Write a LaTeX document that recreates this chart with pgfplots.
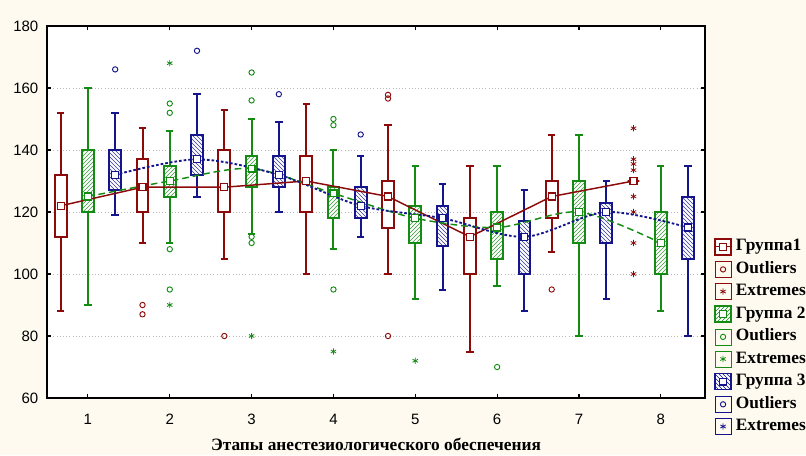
\documentclass[border=0pt]{standalone}
\usepackage{fontspec}
\setmainfont{Liberation Sans}
\newfontfamily\tnr{Liberation Serif}
\usepackage{pgfplots}
\pgfplotsset{compat=1.18}
\usepgfplotslibrary{statistics}
\usetikzlibrary{patterns}
\definecolor{cR}{RGB}{140,10,10}
\definecolor{cG}{RGB}{20,140,20}
\definecolor{cB}{RGB}{20,20,140}
\definecolor{bgc}{RGB}{254,250,240}
\definecolor{gridc}{RGB}{185,185,185}
\pgfplotsset{
 gbox/.style={line width=1.5pt, mark=none, boxplot/box extend=0.143, boxplot/whisker extend=0.09,
   boxplot/every median/.style={draw=none}},
 gone/.style={gbox, draw=cR, boxplot/every box/.style={fill=white}},
 gtwo/.style={gbox, draw=cG, boxplot/every box/.style={fill=white, postaction={pattern=north east lines, pattern color=cG!85}}},
 gthree/.style={gbox, draw=cB, boxplot/every box/.style={fill=white, postaction={pattern=north west lines, pattern color=cB!85}}},
}
% style, position, lower whisker, lower quartile, median, upper quartile, upper whisker
\newcommand{\boxA}[7]{\addplot[#1, boxplot prepared={draw position=#2, lower whisker=#3, lower quartile=#4, median=#5, upper quartile=#6, upper whisker=#7}] coordinates {};}
\begin{document}
\begin{tikzpicture}
\fill[bgc] (0,0) rectangle (604.5pt,341.25pt);
\useasboundingbox (0,0) rectangle (604.5pt,341.25pt);
\begin{axis}[
  at={(35.25pt,42.75pt)}, anchor=south west,
  scale only axis, width=493.5pt, height=279pt,
  boxplot/draw direction=y,
  xmin=0.5, xmax=8.54, ymin=60, ymax=180,
  xtick={1,2,3,4,5,6,7,8}, ytick={60,80,100,120,140,160,180},
  axis background/.style={fill=white},
  ymajorgrids, major grid style={gridc, dotted, line width=0.6pt},
  axis line style={line width=1.3pt, black},
  tick style={line width=0.8pt, black}, major tick length=3pt,
  tick label style={font=\fontsize{11.25}{13}\selectfont},
  /pgf/number format/assume math mode=true,
  xticklabel style={yshift=-8.5pt},
  yticklabel style={xshift=-3pt},
  xlabel={\tnr\bfseries Этапы анестезиологического обеспечения},
  xlabel style={font=\fontsize{13}{15}\selectfont, at={(axis description cs:0.5,0)}, anchor=center, yshift=-35pt},
  legend style={at={(axis description cs:1,0.431)}, anchor=north west, xshift=6.75pt,
    draw=none, fill=none, inner sep=0pt, row sep=4.2pt, column sep=3pt,
    font=\fontsize{13}{15}\selectfont\tnr\bfseries,
    nodes={inner sep=0pt, text height=9pt, text depth=3pt}},
  legend cell align=left,
]
% ---- legend ----
\addlegendimage{legend image code/.code={
  \draw[cR, line width=1.2pt, fill=white] (0pt,-6pt) rectangle (12pt,6pt);
  \draw[cR, line width=0.8pt] (0pt,0pt) -- (12pt,0pt);
  \draw[cR, line width=0.8pt, fill=white] (3.5pt,-2.5pt) rectangle (8.5pt,2.5pt);}}
\addlegendentry{Группа1}
\addlegendimage{cR, mark=o, mark size=2pt, legend image code/.code={
  \path (0pt,-6pt) rectangle (12pt,6pt);
  \draw[line width=0.7pt] plot coordinates {(6pt,0pt)};}}
\addlegendentry{Outliers}
\addlegendimage{cR, mark=asterisk, mark size=2.3pt, legend image code/.code={
  \path (0pt,-6pt) rectangle (12pt,6pt);
  \draw[line width=0.6pt] plot coordinates {(6pt,0pt)};}}
\addlegendentry{Extremes}
\addlegendimage{legend image code/.code={
  \draw[cG, line width=1.2pt, fill=white, postaction={pattern=north east lines, pattern color=cG}] (0pt,-6pt) rectangle (12pt,6pt);
  \draw[cG, line width=0.8pt, fill=white] (3.5pt,-2.5pt) rectangle (8.5pt,2.5pt);}}
\addlegendentry{Группа 2}
\addlegendimage{cG, mark=o, mark size=2pt, legend image code/.code={
  \path (0pt,-6pt) rectangle (12pt,6pt);
  \draw[line width=0.7pt] plot coordinates {(6pt,0pt)};}}
\addlegendentry{Outliers}
\addlegendimage{cG, mark=asterisk, mark size=2.3pt, legend image code/.code={
  \path (0pt,-6pt) rectangle (12pt,6pt);
  \draw[line width=0.6pt] plot coordinates {(6pt,0pt)};}}
\addlegendentry{Extremes}
\addlegendimage{legend image code/.code={
  \draw[cB, line width=1.2pt, fill=white, postaction={pattern=north west lines, pattern color=cB}] (0pt,-6pt) rectangle (12pt,6pt);
  \draw[cB, line width=0.8pt, fill=white] (3.5pt,-2.5pt) rectangle (8.5pt,2.5pt);}}
\addlegendentry{Группа 3}
\addlegendimage{cB, mark=o, mark size=2pt, legend image code/.code={
  \path (0pt,-6pt) rectangle (12pt,6pt);
  \draw[line width=0.7pt] plot coordinates {(6pt,0pt)};}}
\addlegendentry{Outliers}
\addlegendimage{cB, mark=asterisk, mark size=2.3pt, legend image code/.code={
  \path (0pt,-6pt) rectangle (12pt,6pt);
  \draw[line width=0.6pt] plot coordinates {(6pt,0pt)};}}
\addlegendentry{Extremes}
% ---- group 1 ----
\boxA{gone}{0.667}{88}{112}{122}{132}{152}
\boxA{gone}{1.667}{110}{120}{128}{137}{147}
\boxA{gone}{2.667}{105}{120}{128}{140}{153}
\boxA{gone}{3.667}{100}{120}{130}{138}{155}
\boxA{gone}{4.667}{100}{115}{125}{130}{148}
\boxA{gone}{5.667}{75}{100}{112}{118}{135}
\boxA{gone}{6.667}{107}{118}{125}{130}{145}
\boxA{gone}{7.667}{130}{130}{130}{130}{130}
% ---- group 2 ----
\boxA{gtwo}{1}{90}{120}{125}{140}{160}
\boxA{gtwo}{2}{110}{125}{130}{135}{146}
\boxA{gtwo}{3}{113}{128}{134}{138}{150}
\boxA{gtwo}{4}{108}{118}{126}{128}{140}
\boxA{gtwo}{5}{92}{110}{118}{122}{135}
\boxA{gtwo}{6}{96}{105}{115}{120}{135}
\boxA{gtwo}{7}{80}{110}{120}{130}{145}
\boxA{gtwo}{8}{88}{100}{110}{120}{135}
% ---- group 3 ----
\boxA{gthree}{1.333}{119}{127}{132}{140}{152}
\boxA{gthree}{2.333}{125}{132}{137}{145}{158}
\boxA{gthree}{3.333}{120}{128}{132}{138}{149}
\boxA{gthree}{4.333}{112}{118}{122}{128}{138}
\boxA{gthree}{5.333}{95}{109}{118}{122}{129}
\boxA{gthree}{6.333}{88}{100}{112}{117}{127}
\boxA{gthree}{7.333}{92}{110}{120}{123}{130}
\boxA{gthree}{8.333}{80}{105}{115}{125}{135}
% ---- median lines ----
\addplot[cR, line width=1.1pt] coordinates {(0.667,122)(1.667,128)(2.667,128)(3.667,130)(4.667,125)(5.667,112)(6.667,125)(7.667,130)};
\addplot[cG, line width=1.1pt, dash pattern=on 5pt off 3pt, smooth, tension=0.5] coordinates {(1,125)(2,130)(3,134)(4,126)(5,118)(6,115)(7,120)(8,110)};
\addplot[cB, line width=1.4pt, dash pattern=on 2pt off 1.5pt, smooth, tension=0.5] coordinates {(1.333,132)(2.333,137)(3.333,132)(4.333,122)(5.333,118)(6.333,112)(7.333,120)(8.333,115)};
% ---- median markers ----
\addplot[only marks, mark=square*, mark size=2.6pt, mark options={draw=cR, fill=white, line width=0.9pt}] coordinates {(0.667,122)(1.667,128)(2.667,128)(3.667,130)(4.667,125)(5.667,112)(6.667,125)(7.667,130)};
\addplot[only marks, mark=square*, mark size=2.6pt, mark options={draw=cG, fill=white, line width=0.9pt}] coordinates {(1,125)(2,130)(3,134)(4,126)(5,118)(6,115)(7,120)(8,110)};
\addplot[only marks, mark=square*, mark size=2.6pt, mark options={draw=cB, fill=white, line width=0.9pt}] coordinates {(1.333,132)(2.333,137)(3.333,132)(4.333,122)(5.333,118)(6.333,112)(7.333,120)(8.333,115)};
% ---- outliers & extremes ----
\addplot[only marks, cR, mark=o, mark size=2pt, mark options={line width=0.7pt}] coordinates {(1.667,90)(1.667,87)(2.667,80)(4.667,157.8)(4.667,156.6)(4.667,80)(6.667,95)};
\addplot[only marks, cR, mark=asterisk, mark size=2.3pt, mark options={line width=0.6pt}] coordinates {(7.667,147)(7.667,137)(7.667,135.5)(7.667,133.5)(7.667,125)(7.667,120)(7.667,110)(7.667,100)};
\addplot[only marks, cG, mark=o, mark size=2pt, mark options={line width=0.7pt}] coordinates {(2,155)(2,152)(2,108)(2,95)(3,165)(3,156)(3,112)(3,110)(4,150)(4,148)(4,95)(6,70)};
\addplot[only marks, cG, mark=asterisk, mark size=2.3pt, mark options={line width=0.6pt}] coordinates {(2,168)(2,90)(3,80)(4,75)(5,72)};
\addplot[only marks, cB, mark=o, mark size=2pt, mark options={line width=0.7pt}] coordinates {(1.333,166)(2.333,172)(3.333,158)(4.333,145)};
\end{axis}
\end{tikzpicture}
\end{document}
